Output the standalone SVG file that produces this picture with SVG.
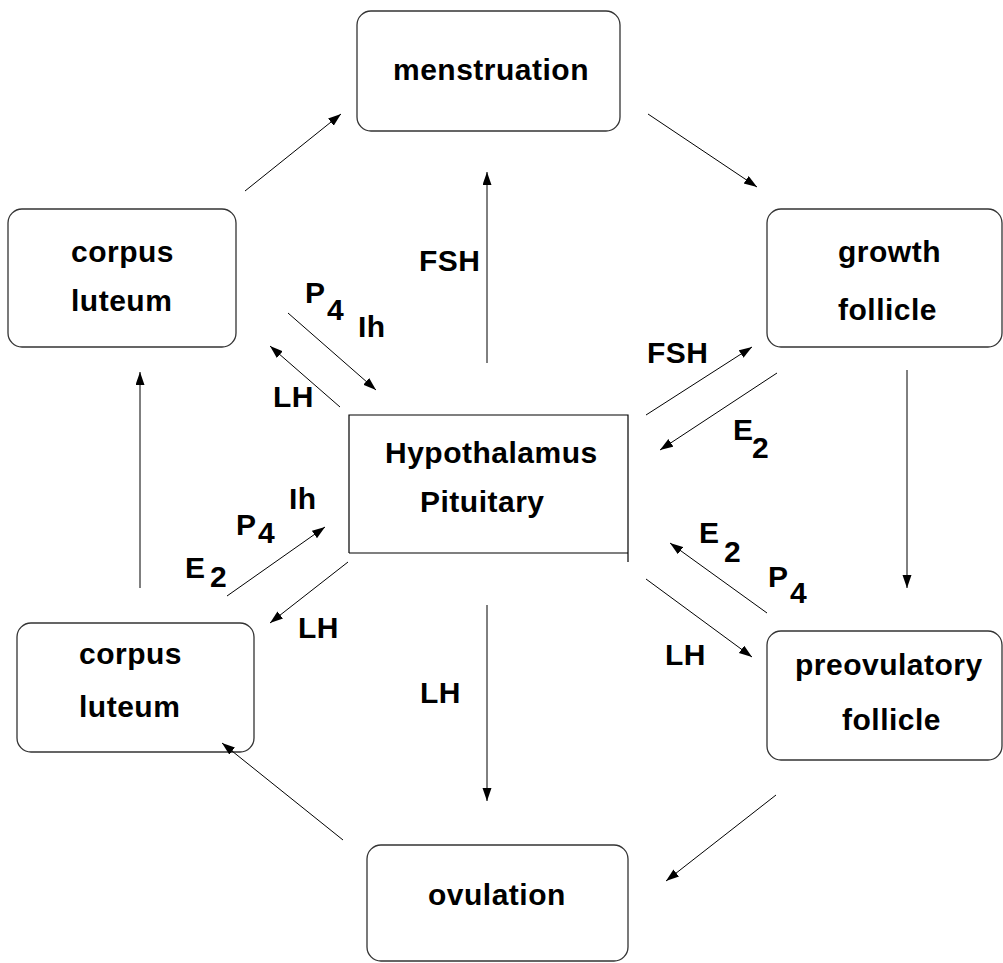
<svg xmlns="http://www.w3.org/2000/svg" width="1003" height="963" viewBox="0 0 1003 963">
<style>
.box{fill:#fff;stroke:#333;stroke-width:1.3}
.t{font-family:"Liberation Sans",Arial,sans-serif;font-weight:bold;font-size:30px;fill:#000;letter-spacing:0.5px}
.c line{stroke:#000;stroke-width:1;marker-end:url(#ah)}
.hp{stroke:#000;stroke-width:1.2;fill:none}
</style>
<defs>
<marker id="ah" markerUnits="userSpaceOnUse" markerWidth="14" markerHeight="10" refX="13" refY="4.5" orient="auto">
<path d="M0,0 L13,4.5 L0,9 z" fill="#000"/>
</marker>
</defs>
<rect width="1003" height="963" fill="#fff"/>
<g id="menstruation"><rect class="box" x="357" y="11" width="263" height="120" rx="14"/><text class="t" x="393" y="80">menstruation</text></g>
<g id="corpus-luteum-top"><rect class="box" x="8" y="209" width="228" height="138" rx="14"/><text class="t" x="71" y="262">corpus</text><text class="t" x="71" y="311">luteum</text></g>
<g id="growth-follicle"><rect class="box" x="767" y="209" width="235" height="138" rx="14"/><text class="t" x="838" y="262">growth</text><text class="t" x="838" y="320">follicle</text></g>
<g id="hypothalamus"><path class="hp" d="M349,553 V415 H628 V562 M349,553 H628"/><text class="t" x="385" y="463">Hypothalamus</text><text class="t" x="420" y="512">Pituitary</text></g>
<g id="corpus-luteum-bottom"><rect class="box" x="17" y="623" width="237" height="129" rx="14"/><text class="t" x="79" y="664">corpus</text><text class="t" x="79" y="717">luteum</text></g>
<g id="preovulatory-follicle"><rect class="box" x="767" y="631" width="235" height="129" rx="14"/><text class="t" x="795" y="675">preovulatory</text><text class="t" x="842" y="730">follicle</text></g>
<g id="ovulation"><rect class="box" x="367" y="845" width="261" height="116" rx="14"/><text class="t" x="428" y="905">ovulation</text></g>
<g id="connectors" class="c">
<line x1="245" y1="191" x2="341" y2="114"/>
<line x1="648" y1="114" x2="757" y2="187"/>
<line x1="907" y1="370" x2="907" y2="588"/>
<line x1="776" y1="795" x2="666" y2="881"/>
<line x1="343" y1="840" x2="222" y2="743"/>
<line x1="140" y1="588" x2="140" y2="372"/>
<line x1="487" y1="363" x2="487" y2="172"/>
<line x1="487" y1="605" x2="487" y2="801"/>
<line x1="288" y1="313" x2="376" y2="390"/>
<line x1="340" y1="407" x2="270" y2="346"/>
<line x1="646" y1="415" x2="752" y2="347"/>
<line x1="777" y1="373" x2="660" y2="450"/>
<line x1="227" y1="596" x2="325" y2="527"/>
<line x1="348" y1="562" x2="270" y2="623"/>
<line x1="767" y1="613" x2="670" y2="543"/>
<line x1="646" y1="579" x2="752" y2="657"/>
</g>
<g id="labels">
<text class="t" x="419" y="271">FSH</text>
<text class="t" x="420" y="703">LH</text>
<text class="t" x="305" y="303">P</text><text class="t" x="327" y="320">4</text>
<text class="t" x="358" y="337">Ih</text>
<text class="t" x="273" y="407">LH</text>
<text class="t" x="647" y="363">FSH</text>
<text class="t" x="733" y="440">E</text><text class="t" x="752" y="458">2</text>
<text class="t" x="289" y="509">Ih</text>
<text class="t" x="236" y="535">P</text><text class="t" x="258" y="543">4</text>
<text class="t" x="185" y="578">E</text><text class="t" x="210" y="587">2</text>
<text class="t" x="298" y="638">LH</text>
<text class="t" x="699" y="543">E</text><text class="t" x="724" y="562">2</text>
<text class="t" x="768" y="587">P</text><text class="t" x="790" y="603">4</text>
<text class="t" x="665" y="665">LH</text>
</g>
</svg>
